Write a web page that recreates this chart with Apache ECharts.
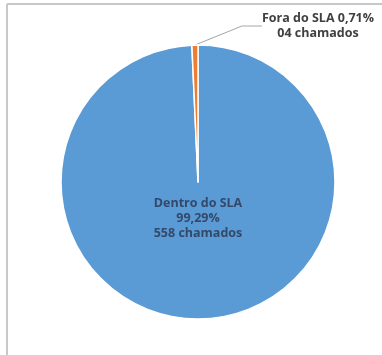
<!DOCTYPE html>
<html>
<head>
<meta charset="utf-8">
<script src="https://cdn.jsdelivr.net/npm/echarts@6/dist/echarts.min.js"></script>
<style>
  html, body { margin: 0; padding: 0; background: #fff; }
  #chart { width: 382px; height: 355px; }
</style>
</head>
<body>
<div id="chart"></div>
<script>
// Chamados atendidos dentro e fora do SLA
const categories = ['Dentro do SLA', 'Fora do SLA'];
const chamados = [558, 4];
const percentLabels = ['99,29%', '0,71%'];
const countLabels = ['558 chamados', '04 chamados'];
const colors = ['#5b9bd5', '#ed7d31'];

const chart = echarts.init(document.getElementById('chart'), null, { renderer: 'canvas' });

const data = categories.map((name, i) => ({
  name: name,
  value: chamados[i],
  itemStyle: { color: colors[i] }
}));

// Inner label for the large slice, outer label with leader line for the small one
data[0].label = {
  position: 'center',
  offset: [0, 36],
  formatter: () => categories[0] + '\n' + percentLabels[0] + '\n' + countLabels[0],
  color: '#33496a'
};
data[0].labelLine = { show: false };
data[1].label = {
  position: 'outside',
  formatter: () => categories[1] + ' ' + percentLabels[1] + '\n' + countLabels[1],
  color: '#404040'
};
data[1].labelLine = {
  show: true,
  lineStyle: { color: '#a6a6a6', width: 1 }
};

chart.setOption({
  animation: false,
  backgroundColor: '#ffffff',
  graphic: [
    { type: 'line', shape: { x1: 7, y1: 4, x2: 382, y2: 4 }, style: { stroke: '#c8c8c8', lineWidth: 2 } },
    { type: 'line', shape: { x1: 7, y1: 4, x2: 7, y2: 355 }, style: { stroke: '#c8c8c8', lineWidth: 2 } }
  ],
  series: [{
    type: 'pie',
    center: [198, 182],
    radius: [0, 137],
    startAngle: 90,
    clockwise: true,
    avoidLabelOverlap: false,
    itemStyle: { borderColor: '#ffffff', borderWidth: 1.5 },
    label: {
      fontFamily: 'Open Sans',
      fontWeight: 'bold',
      fontSize: 12.5,
      lineHeight: 15,
      align: 'center'
    },
    labelLine: { length: 6, length2: 20 },
    labelLayout: function (params) {
      if (params.dataIndex === 1) {
        return { x: 318, y: 26, align: 'center', verticalAlign: 'middle' };
      }
      return {};
    },
    data: data
  }]
});
</script>
</body>
</html>
